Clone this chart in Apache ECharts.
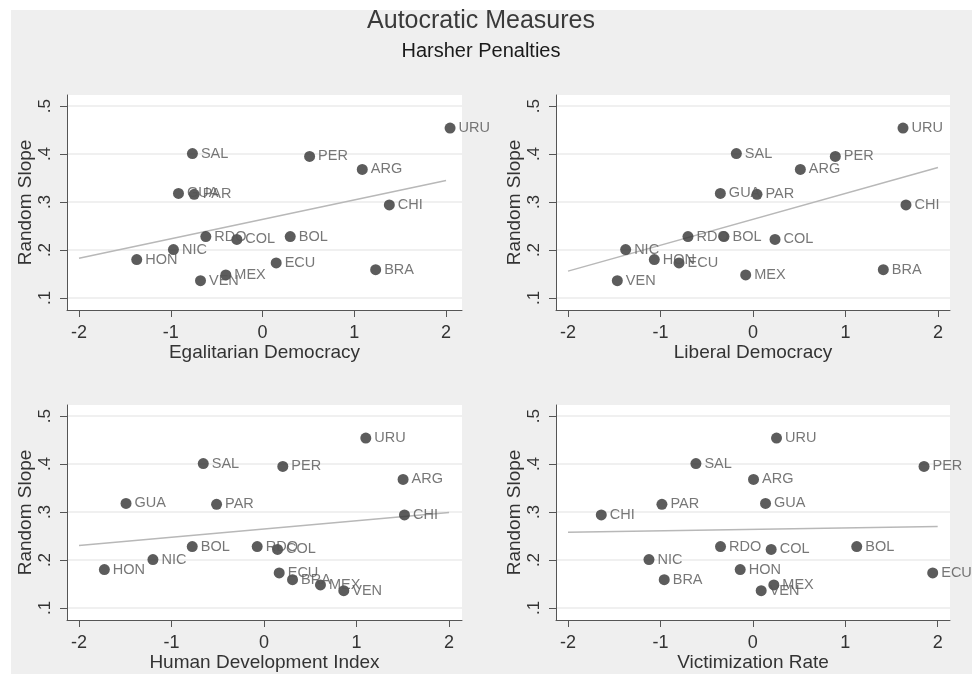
<!DOCTYPE html>
<html>
<head>
<meta charset="utf-8">
<script src="https://cdn.jsdelivr.net/npm/echarts@6/dist/echarts.min.js"></script>
<style>
  html, body { margin: 0; padding: 0; background: #ffffff; }
  #wrap { position: relative; width: 979px; height: 674px; background: #ffffff; }
  #panel { position: absolute; left: 11px; top: 10px; width: 961px; height: 664px; background: #efefef; }
  #chart { position: absolute; left: 0; top: 0; width: 979px; height: 674px; }
</style>
</head>
<body>
<div id="wrap"><div id="panel"></div><div id="chart"></div></div>
<script>
// ---- data ----
const countries   = ['URU','SAL','PER','ARG','GUA','PAR','CHI','RDO','BOL','COL','NIC','HON','ECU','BRA','MEX','VEN'];
const randomSlope = [0.454,0.401,0.395,0.368,0.318,0.316,0.294,0.228,0.228,0.222,0.201,0.180,0.173,0.159,0.148,0.136];
const egalitarianDemocracy = [2.044,-0.764,0.513,1.087,-0.916,-0.745,1.382,-0.618,0.302,-0.280,-0.971,-1.371,0.149,1.233,-0.400,-0.676];
const liberalDemocracy     = [1.622,-0.180,0.890,0.512,-0.353,0.043,1.654,-0.703,-0.314,0.238,-1.377,-1.067,-0.800,1.409,-0.079,-1.467];
const humanDevelopment     = [1.100,-0.657,0.203,1.503,-1.492,-0.513,1.518,-0.074,-0.776,0.146,-1.201,-1.726,0.164,0.308,0.610,0.862];
const victimizationRate    = [0.256,-0.616,1.852,0.007,0.137,-0.984,-1.640,-0.350,1.124,0.198,-1.124,-0.137,1.946,-0.959,0.227,0.090];
// fitted line end points (x = -2 and x = 2)
const fitX = [-2, 2];
const fitEgalitarian = [0.183, 0.345];
const fitLiberal     = [0.156, 0.372];
const fitHDI         = [0.230, 0.299];
const fitVictim      = [0.258, 0.270];
// ticks
const xTicks = [-2, -1, 0, 1, 2];
const yTicks = [0.1, 0.2, 0.3, 0.4, 0.5];
const yTickLabels = ['.1', '.2', '.3', '.4', '.5'];
const xTitles = ['Egalitarian Democracy', 'Liberal Democracy', 'Human Development Index', 'Victimization Rate'];
const mainTitle = 'Autocratic Measures';
const subTitle = 'Harsher Penalties';

// ---- layout ----
const FONT = '"Liberation Sans", Arial, Helvetica, sans-serif';
const panels = [
  { xs: egalitarianDemocracy, fit: fitEgalitarian, left: 67,  top: 95,  width: 395, height: 215, xMin: -2.131, xMax: 2.174 },
  { xs: liberalDemocracy,     fit: fitLiberal,     left: 556, top: 95,  width: 394, height: 215, xMin: -2.13,  xMax: 2.13 },
  { xs: humanDevelopment,     fit: fitHDI,         left: 67,  top: 405, width: 395, height: 215, xMin: -2.13,  xMax: 2.14 },
  { xs: victimizationRate,    fit: fitVictim,      left: 556, top: 405, width: 394, height: 215, xMin: -2.13,  xMax: 2.133 }
];

const grid = [], xAxis = [], yAxis = [], series = [];
panels.forEach((p, i) => {
  grid.push({ left: p.left, top: p.top, width: p.width, height: p.height,
              show: true, backgroundColor: '#ffffff', borderWidth: 0 });
  xAxis.push({
    type: 'value', gridIndex: i, min: p.xMin, max: p.xMax,
    name: xTitles[i], nameLocation: 'middle', nameGap: 32,
    nameTextStyle: { fontSize: 19, color: '#333', fontFamily: FONT },
    axisLine: { show: true, onZero: false, lineStyle: { color: '#555', width: 1 } },
    axisTick: { show: true, length: 7, customValues: xTicks, lineStyle: { color: '#555' } },
    axisLabel: { customValues: xTicks, fontSize: 18, color: '#333', margin: 14, fontFamily: FONT,
                 formatter: v => String(v) },
    splitLine: { show: false }
  });
  yAxis.push({
    type: 'value', gridIndex: i, min: 0.075, max: 0.523,
    name: 'Random Slope', nameLocation: 'middle', nameGap: 32,
    nameTextStyle: { fontSize: 19, color: '#333', fontFamily: FONT },
    axisLine: { show: true, onZero: false, lineStyle: { color: '#555', width: 1 } },
    axisTick: { show: true, length: 7, customValues: yTicks, lineStyle: { color: '#555' } },
    axisLabel: { customValues: yTicks, rotate: 90, fontSize: 17, color: '#333', margin: 13, fontFamily: FONT,
                 formatter: v => { const k = yTicks.indexOf(v); return k >= 0 ? yTickLabels[k] : v.toFixed(1).replace(/^0/, ''); } },
    splitLine: { show: true, lineStyle: { color: '#ebebeb', width: 1.5 } }
  });
  series.push({
    type: 'line', xAxisIndex: i, yAxisIndex: i, silent: true, symbol: 'none', z: 2,
    data: fitX.map((x, k) => [x, p.fit[k]]),
    lineStyle: { color: '#b8b8b8', width: 1.5 }
  });
  series.push({
    type: 'scatter', xAxisIndex: i, yAxisIndex: i, clip: false, z: 3,
    symbol: 'circle', symbolSize: 11,
    itemStyle: { color: '#333333' },
    data: countries.map((c, k) => ({ name: c, value: [p.xs[k], randomSlope[k]] })),
    label: { show: true, position: 'right', distance: 3, formatter: '{b}',
             color: '#555', fontSize: 14.5, fontFamily: FONT }
  });
});

const chart = echarts.init(document.getElementById('chart'), null, { renderer: 'canvas' });
chart.setOption({
  animation: false,
  backgroundColor: 'transparent',
  grid, xAxis, yAxis, series,
  graphic: [
    { type: 'text', silent: true,
      style: { text: mainTitle, x: 481, y: 21, textAlign: 'center', textVerticalAlign: 'middle',
               fontSize: 25, fill: '#3a3a3a', fontFamily: FONT } },
    { type: 'text', silent: true,
      style: { text: subTitle, x: 481, y: 51, textAlign: 'center', textVerticalAlign: 'middle',
               fontSize: 20, fill: '#1a1a1a', fontFamily: FONT } }
  ]
});
</script>
</body>
</html>
